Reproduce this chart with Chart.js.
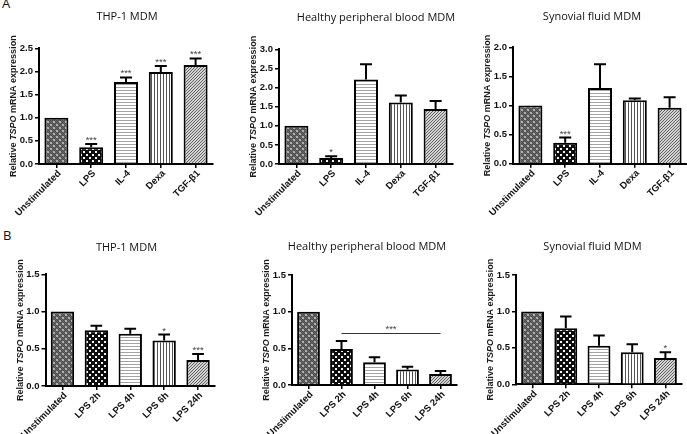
<!DOCTYPE html>
<html>
<head>
<meta charset="utf-8">
<script src="https://cdn.jsdelivr.net/npm/chart.js@4.4.0/dist/chart.umd.min.js"></script>
<style>
    html, body { margin: 0; padding: 0; background: #fff; }
    #fig { position: relative; width: 687px; height: 434px; overflow: hidden; }
    .panel { position: absolute; }
    .tag { position: absolute; font: 13px "Open Sans", sans-serif; color: #111; line-height: 18px; }
</style>
</head>
<body>
<div id="fig">
    <div class="tag" style="left:2px;top:-6px">A</div>
    <div class="tag" style="left:3px;top:226px">B</div>
</div>
<script>
(() => {
    'use strict';

    // Categories
    const catsA = ['Unstimulated', 'LPS', 'IL-4', 'Dexa', 'TGF-\u03b21'];
    const catsB = ['Unstimulated', 'LPS 2h', 'LPS 4h', 'LPS 6h', 'LPS 24h'];

    // Panel A: stimulation (mean, upper error, significance)
    const thp1A = [1.0, 0.36, 1.77, 1.99, 2.14];
    const thp1AErr = [0, 0.07, 0.10, 0.13, 0.14];
    const thp1AStars = ['', '***', '***', '***', '***'];

    const bloodA = [1.0, 0.16, 2.21, 1.61, 1.44];
    const bloodAErr = [0, 0.04, 0.40, 0.18, 0.21];
    const bloodAStars = ['', '*', '', '', ''];

    const synovialA = [1.0, 0.36, 1.30, 1.09, 0.96];
    const synovialAErr = [0, 0.09, 0.41, 0.03, 0.18];
    const synovialAStars = ['', '***', '', '', ''];

    // Panel B: LPS time course
    const thp1B = [1.0, 0.75, 0.70, 0.61, 0.35];
    const thp1BErr = [0, 0.06, 0.07, 0.08, 0.08];
    const thp1BStars = ['', '', '', '*', '***'];

    const bloodB = [1.0, 0.49, 0.31, 0.21, 0.15];
    const bloodBErr = [0, 0.11, 0.07, 0.04, 0.04];
    const bloodBStars = ['', '', '', '', ''];
    const bloodBBracket = { from: 1, to: 4, value: 0.71, label: '***' };

    const synovialB = [1.0, 0.77, 0.53, 0.44, 0.36];
    const synovialBErr = [0, 0.16, 0.14, 0.11, 0.08];
    const synovialBStars = ['', '', '', '', '*'];

    // Tick values
    const ticksA1 = [0, 0.5, 1.0, 1.5, 2.0, 2.5];
    const ticksA2 = [0, 0.5, 1.0, 1.5, 2.0, 2.5, 3.0];
    const ticksA3 = [0, 0.5, 1.0, 1.5, 2.0];
    const ticksB = [0, 0.5, 1.0, 1.5];

    const titles = ['THP-1 MDM', 'Healthy peripheral blood MDM', 'Synovial fluid MDM'];
    const yTitleParts = [['Relative ', false], ['TSPO', true], [' mRNA expression', false]];

    const FONT = '"Liberation Sans", Arial, sans-serif';
    const YW = 28;   // fixed y-axis box width
    const fig = document.getElementById('fig');

    // Fill patterns for bars
    function makePattern(kind) {
        const c = document.createElement('canvas');
        const g = c.getContext('2d');
        const px = (x, y, col) => { g.fillStyle = col; g.fillRect(x, y, 1, 1); };
        if (kind === 'fine') {
            c.width = c.height = 6;
            g.fillStyle = '#6a6a6a'; g.fillRect(0, 0, 6, 6);
            for (let y = 0; y < 6; y++) for (let x = 0; x < 6; x++) if ((x + y) % 2 === 0) px(x, y, '#4a4a4a');
            g.fillStyle = '#b0b0b0'; g.fillRect(1, 1, 2, 2); g.fillRect(4, 4, 2, 2);
        } else if (kind === 'coarse') {
            c.width = c.height = 6;
            g.fillStyle = '#0d0d0d'; g.fillRect(0, 0, 6, 6);
            g.fillStyle = '#f2f2f2'; g.fillRect(1, 1, 2, 2); g.fillRect(4, 4, 2, 2);
        } else if (kind === 'hlines') {
            c.width = 1; c.height = 3;
            g.fillStyle = '#fff'; g.fillRect(0, 0, 1, 3);
            px(0, 0, '#a2a2a2');
        } else if (kind === 'vlines') {
            c.width = 3; c.height = 1;
            g.fillStyle = '#fff'; g.fillRect(0, 0, 3, 1);
            px(0, 0, '#555');
        } else {
            c.width = c.height = 3;
            g.fillStyle = '#d4d4d4'; g.fillRect(0, 0, 3, 3);
            px(2, 0, '#606060'); px(1, 1, '#606060'); px(0, 2, '#606060');
        }
        return g.createPattern(c, 'repeat');
    }

    const fills = ['fine', 'coarse', 'hlines', 'vlines', 'diag'].map(makePattern);

    // Panel boxes in page coordinates; plot = [left, top, right, bottom] of the chart area
    const panels = [
        { box: [-20, 0, 246, 217], plot: [39, 48.3, 213, 164], tx: 127, ty: 17, title: titles[0],
          cats: catsA, values: thp1A, err: thp1AErr, stars: thp1AStars, ticks: ticksA1 },
        { box: [226, 0, 234, 217], plot: [279, 49.3, 453, 164], tx: 376, ty: 18, title: titles[1],
          cats: catsA, values: bloodA, err: bloodAErr, stars: bloodAStars, ticks: ticksA2 },
        { box: [460, 0, 227, 217], plot: [513, 47.3, 687, 163.7], tx: 592, ty: 17, title: titles[2],
          cats: catsA, values: synovialA, err: synovialAErr, stars: synovialAStars, ticks: ticksA3 },
        { box: [-20, 217, 246, 225], plot: [45.5, 274.3, 215, 386], tx: 126.5, ty: 248, title: titles[0],
          cats: catsB, values: thp1B, err: thp1BErr, stars: thp1BStars, ticks: ticksB },
        { box: [226, 217, 234, 225], plot: [292, 275, 457, 385], tx: 367, ty: 247, title: titles[1],
          cats: catsB, values: bloodB, err: bloodBErr, stars: bloodBStars, ticks: ticksB, bracket: bloodBBracket },
        { box: [460, 217, 227, 225], plot: [516, 275, 682, 384.3], tx: 592.5, ty: 247, title: titles[2],
          cats: catsB, values: synovialB, err: synovialBErr, stars: synovialBStars, ticks: ticksB }
    ];

    // Error bars, stars, titles
    function decor(p) {
        return {
            id: 'decor',
            afterDatasetsDraw(chart) {
                const ctx = chart.ctx;
                const ys = chart.scales.y;
                const meta = chart.getDatasetMeta(0);
                const [bx, by] = p.box;
                ctx.save();
                ctx.strokeStyle = '#000';
                ctx.lineWidth = 2;
                ctx.fillStyle = '#444';
                ctx.font = '9.5px ' + FONT;
                ctx.textAlign = 'center';
                ctx.textBaseline = 'alphabetic';
                p.values.forEach((v, i) => {
                    const bar = meta.data[i];
                    const cx = bar.x;
                    const half = bar.width / 4;
                    let yTop = ys.getPixelForValue(v);
                    if (p.err[i] > 0) {
                        const yCap = ys.getPixelForValue(v + p.err[i]);
                        ctx.beginPath();
                        ctx.moveTo(cx, yTop);
                        ctx.lineTo(cx, yCap);
                        ctx.moveTo(cx - half, yCap);
                        ctx.lineTo(cx + half, yCap);
                        ctx.stroke();
                        yTop = yCap;
                    }
                    if (p.stars[i]) ctx.fillText(p.stars[i], cx, yTop - 1);
                });

                if (p.bracket) {
                    const b = p.bracket;
                    const x0 = meta.data[b.from].x;
                    const x1 = meta.data[b.to].x;
                    const y = Math.round(ys.getPixelForValue(b.value)) + 0.5;
                    ctx.strokeStyle = '#333';
                    ctx.lineWidth = 1;
                    ctx.beginPath();
                    ctx.moveTo(x0, y);
                    ctx.lineTo(x1, y);
                    ctx.stroke();
                    ctx.fillText(b.label, (x0 + x1) / 2, y - 1.5);
                }

                // chart title
                ctx.fillStyle = '#111';
                ctx.font = '11px "Open Sans", sans-serif';
                ctx.textBaseline = 'middle';
                ctx.fillText(p.title, p.tx - bx, p.ty - by);

                // y-axis title with italic gene name
                const area = chart.chartArea;
                ctx.translate(area.left - 25, (area.top + area.bottom) / 2);
                ctx.rotate(-Math.PI / 2);
                ctx.fillStyle = '#1a1a1a';
                ctx.textAlign = 'left';
                const fontOf = it => (it ? 'italic bold 9px ' : 'bold 9px ') + FONT;
                let total = 0;
                yTitleParts.forEach(([t, it]) => { ctx.font = fontOf(it); total += ctx.measureText(t).width; });
                let cur = -total / 2;
                yTitleParts.forEach(([t, it]) => {
                    ctx.font = fontOf(it);
                    ctx.fillText(t, cur, 0);
                    cur += ctx.measureText(t).width;
                });
                ctx.restore();
            }
        };
    }

    panels.forEach(p => {
        const [bx, by, bw, bh] = p.box;
        const [pl, pt, pr, pb] = p.plot;
        const xh = by + bh - pb;   // x-axis box fills the rest of the canvas
        const holder = document.createElement('div');
        holder.className = 'panel';
        holder.style.left = bx + 'px';
        holder.style.top = by + 'px';
        const canvas = document.createElement('canvas');
        canvas.width = bw;
        canvas.height = bh;
        holder.appendChild(canvas);
        fig.appendChild(holder);

        const tickFont = { family: FONT, size: 9.5, weight: 'bold' };

        new Chart(canvas, {
            type: 'bar',
            data: {
                labels: p.cats,
                datasets: [{
                    data: p.values,
                    backgroundColor: fills,
                    borderColor: '#000',
                    borderWidth: 2,
                    borderSkipped: 'start',
                    barPercentage: 0.69,
                    categoryPercentage: 1
                }]
            },
            options: {
                responsive: false,
                animation: false,
                devicePixelRatio: 1,
                layout: {
                    padding: {
                        left: pl - bx - YW,
                        top: pt - by,
                        right: bx + bw - pr,
                        bottom: 0
                    }
                },
                plugins: { legend: { display: false }, tooltip: { enabled: false }, title: { display: false } },
                scales: {
                    x: {
                        offset: true,
                        grid: { display: true, drawOnChartArea: false, drawTicks: true, tickLength: 4, offset: false, color: '#000', lineWidth: 1.5 },
                        border: { display: true, color: '#000', width: 2 },
                        ticks: { minRotation: 45, maxRotation: 45, autoSkip: false, padding: 0, labelOffset: 3, color: '#111', font: tickFont },
                        afterFit: s => { s.height = xh; }
                    },
                    y: {
                        min: 0,
                        max: p.ticks[p.ticks.length - 1],
                        grid: { display: true, drawOnChartArea: false, drawTicks: true, tickLength: 4, color: '#000', lineWidth: 1.5 },
                        border: { display: true, color: '#000', width: 2 },
                        ticks: { padding: 2, color: '#111', font: tickFont, callback: v => Number(v).toFixed(1) },
                        afterBuildTicks: s => { s.ticks = p.ticks.map(v => ({ value: v })); },
                        afterFit: s => { s.width = YW; }
                    }
                }
            },
            plugins: [decor(p)]
        });
    });
})();
</script>
</body>
</html>
